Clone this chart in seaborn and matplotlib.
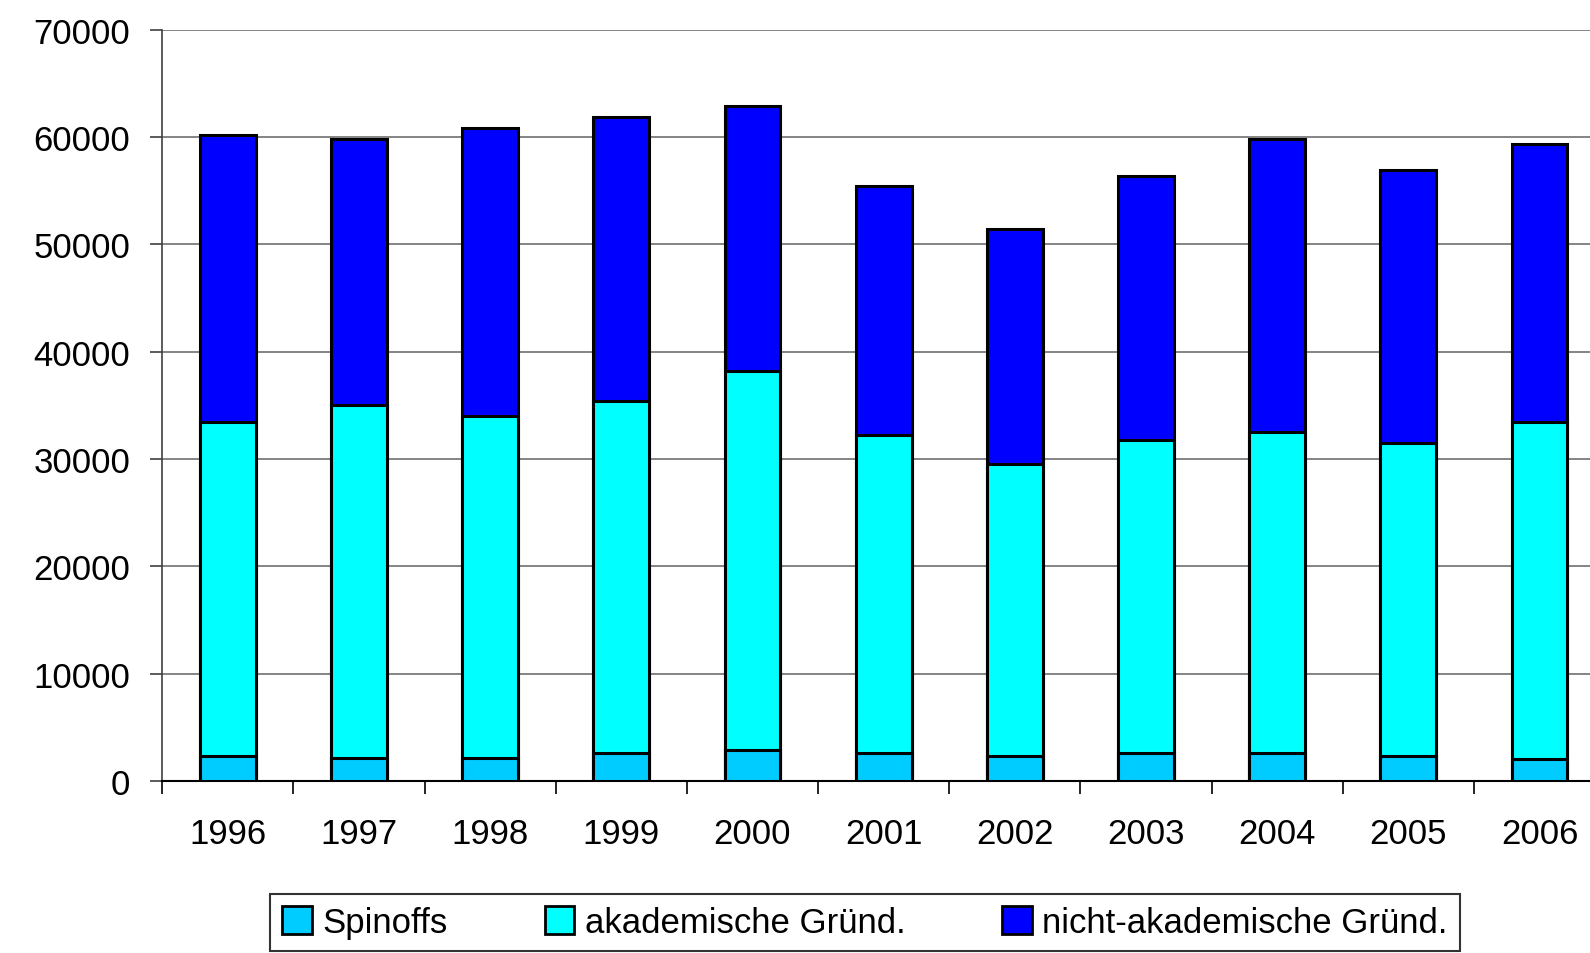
import numpy as np
import pandas as pd
import seaborn as sns
import matplotlib.pyplot as plt
from matplotlib.patches import Patch
from matplotlib.ticker import MultipleLocator, FixedLocator

# Data
years = ['1996', '1997', '1998', '1999', '2000', '2001', '2002', '2003', '2004', '2005', '2006']
spinoffs = [2400, 2150, 2150, 2650, 2900, 2650, 2350, 2650, 2650, 2350, 2100]
akademisch = [31100, 32850, 31900, 32800, 35300, 29600, 27200, 29150, 29900, 29150, 31400]
nicht_akademisch = [26650, 24850, 26750, 26400, 24650, 23150, 21900, 24600, 27300, 25400, 25850]

labels = ['Spinoffs', 'akademische Gründ.', 'nicht-akademische Gründ.']
colors = ['#00CCFF', '#00FFFF', '#0000FF']

df = pd.DataFrame({'year': years, 'spin': spinoffs, 'akad': akademisch, 'nicht': nicht_akademisch})
df['lvl1'] = df['spin']
df['lvl2'] = df['spin'] + df['akad']
df['lvl3'] = df['lvl2'] + df['nicht']

sns.set_style('white')
plt.rcParams['font.family'] = ['Liberation Sans', 'DejaVu Sans']
plt.rcParams['text.color'] = 'black'
plt.rcParams['xtick.color'] = 'black'
plt.rcParams['ytick.color'] = 'black'

fig = plt.figure(figsize=(15.9, 9.54), dpi=100)
ax = fig.add_axes([0.102, 0.180, 0.9075, 0.788])

# stacked bars: draw cumulative totals from top down
for col, c in zip(['lvl3', 'lvl2', 'lvl1'], colors[::-1]):
    sns.barplot(data=df, x='year', y=col, color=c, width=0.425,
                edgecolor='black', linewidth=2.2, saturation=1, ax=ax, zorder=3)

ax.set_ylim(0, 70000)
ax.set_xlim(-0.5, len(years) - 0.5)
ax.yaxis.set_major_locator(MultipleLocator(10000))
ax.grid(axis='y', color='#707070', linewidth=1.2, zorder=0)
ax.set_axisbelow(True)
ax.set_xlabel('')
ax.set_ylabel('')

# x ticks at category boundaries, labels at centres
ax.xaxis.set_major_locator(FixedLocator(np.arange(-0.5, len(years), 1.0)))
ax.xaxis.set_minor_locator(FixedLocator(np.arange(len(years))))
ax.set_xticklabels([], minor=False)
ax.set_xticklabels(years, minor=True)
ax.tick_params(axis='x', which='major', direction='out', length=9, width=1.2, color='black', bottom=True)
ax.tick_params(axis='x', which='minor', length=0, pad=26, labelsize=25, labelcolor='black')
ax.tick_params(axis='y', direction='out', length=9, width=1.2, color='#404040', left=True, pad=14,
               labelsize=25, labelcolor='black')

for s in ['top', 'right']:
    ax.spines[s].set_visible(False)
ax.spines['left'].set_color('#404040')
ax.spines['left'].set_linewidth(1.2)
ax.spines['bottom'].set_color('black')
ax.spines['bottom'].set_linewidth(1.5)

handles = [Patch(facecolor=c, edgecolor='black', linewidth=2) for c in colors]
leg = fig.legend(handles, labels, ncol=3, loc='upper center', bbox_to_anchor=(0.544, 0.062),
                 frameon=True, fancybox=False, edgecolor='black', fontsize=25,
                 handlelength=0.85, handleheight=0.85, handletextpad=0.3, columnspacing=2.8,
                 borderpad=0.35, borderaxespad=0)
leg.get_frame().set_linewidth(1.5)

fig.savefig('out.png', dpi=100)
